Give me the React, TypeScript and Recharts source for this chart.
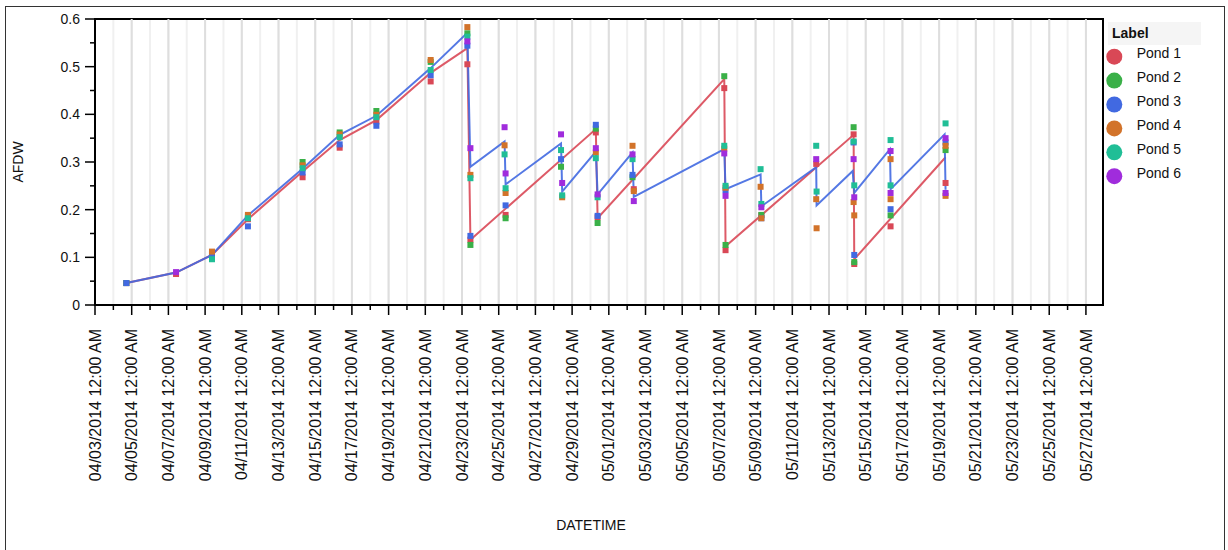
import React from 'react';
import { ScatterChart, Scatter, XAxis, YAxis, CartesianGrid, ReferenceArea, ReferenceLine } from 'recharts';

type Sample = [string, number];

const pondNames = ['Pond 1', 'Pond 2', 'Pond 3', 'Pond 4', 'Pond 5', 'Pond 6'];
const pondColors = ['#d94856', '#3ab048', '#4169e1', '#d2732a', '#20be96', '#a02cdc'];

// AFDW samples per pond (MM/DD HH:MM, 2014)
const pond1: Sample[] = [
  ['04/04 17:00', 0.046], ['04/07 10:00', 0.065], ['04/09 09:00', 0.107], ['04/11 08:00', 0.18],
  ['04/14 07:30', 0.268], ['04/16 08:00', 0.33], ['04/18 08:00', 0.385], ['04/21 07:00', 0.469],
  ['04/23 07:00', 0.505], ['04/23 11:00', 0.137], ['04/25 09:00', 0.189], ['04/30 07:00', 0.362],
  ['04/30 09:20', 0.184], ['05/02 08:40', 0.243], ['05/07 07:00', 0.455], ['05/07 08:40', 0.115],
  ['05/09 07:30', 0.188], ['05/12 07:15', 0.296], ['05/14 08:10', 0.358], ['05/14 09:00', 0.086],
  ['05/16 08:30', 0.165], ['05/19 08:25', 0.256],
];
const pond2: Sample[] = [
  ['04/04 17:00', 0.046], ['04/09 09:00', 0.108], ['04/11 08:00', 0.186], ['04/14 07:30', 0.3],
  ['04/16 08:00', 0.362], ['04/18 08:00', 0.407], ['04/21 07:00', 0.51], ['04/23 07:00', 0.57],
  ['04/23 11:00', 0.126], ['04/25 09:00', 0.182], ['04/28 09:30', 0.29], ['04/30 07:00', 0.37],
  ['04/30 09:20', 0.172], ['05/02 07:00', 0.268], ['05/07 07:00', 0.48], ['05/07 08:40', 0.126],
  ['05/09 07:30', 0.189], ['05/14 08:10', 0.373], ['05/14 09:00', 0.09], ['05/16 08:30', 0.188],
  ['05/19 08:25', 0.325],
];
const pond3: Sample[] = [
  ['04/04 17:00', 0.046], ['04/09 09:00', 0.105], ['04/11 08:00', 0.165], ['04/14 07:30', 0.278],
  ['04/16 08:00', 0.337], ['04/18 08:00', 0.376], ['04/21 07:00', 0.482], ['04/23 07:00', 0.544],
  ['04/23 11:00', 0.145], ['04/25 09:00', 0.209], ['04/28 09:30', 0.306], ['04/30 07:00', 0.378],
  ['04/30 09:20', 0.187], ['05/02 07:00', 0.273], ['05/07 08:40', 0.241], ['05/09 07:30', 0.182],
  ['05/14 08:10', 0.341], ['05/14 09:00', 0.105], ['05/16 08:30', 0.201], ['05/19 08:25', 0.341],
];
const pond4: Sample[] = [
  ['04/09 09:00', 0.112], ['04/11 08:00', 0.189], ['04/14 07:30', 0.293], ['04/16 08:00', 0.358],
  ['04/18 08:00', 0.399], ['04/21 07:00', 0.514], ['04/23 07:00', 0.583], ['04/23 11:00', 0.273],
  ['04/25 07:40', 0.335], ['04/25 09:00', 0.235], ['04/28 11:00', 0.226], ['04/30 07:00', 0.32],
  ['05/02 07:00', 0.334], ['05/02 08:40', 0.239], ['05/07 07:00', 0.328], ['05/07 08:40', 0.246],
  ['05/09 06:30', 0.248], ['05/09 07:30', 0.182], ['05/12 07:15', 0.222], ['05/12 07:45', 0.161],
  ['05/14 08:10', 0.216], ['05/14 09:00', 0.188], ['05/16 08:30', 0.306], ['05/16 08:30', 0.222],
  ['05/19 08:25', 0.334], ['05/19 08:25', 0.229],
];
const pond5: Sample[] = [
  ['04/09 09:00', 0.096], ['04/11 08:00', 0.182], ['04/14 07:30', 0.287], ['04/16 08:00', 0.352],
  ['04/18 08:00', 0.394], ['04/21 07:00', 0.493], ['04/23 07:00', 0.563], ['04/23 11:00', 0.266],
  ['04/25 07:40', 0.316], ['04/25 09:00', 0.245], ['04/28 09:30', 0.325], ['04/28 11:00', 0.23],
  ['04/30 07:00', 0.308], ['04/30 09:20', 0.226], ['05/02 07:00', 0.306], ['05/07 07:00', 0.334],
  ['05/07 08:40', 0.25], ['05/09 06:30', 0.285], ['05/09 07:30', 0.212], ['05/12 07:15', 0.334],
  ['05/12 07:45', 0.238], ['05/14 08:10', 0.343], ['05/14 09:00', 0.251], ['05/16 08:30', 0.346],
  ['05/16 08:30', 0.251], ['05/19 08:25', 0.381],
];
const pond6: Sample[] = [
  ['04/07 10:00', 0.069], ['04/23 07:00', 0.553], ['04/23 11:00', 0.329], ['04/25 07:40', 0.373],
  ['04/25 09:00', 0.276], ['04/28 09:30', 0.358], ['04/28 11:00', 0.256], ['04/30 07:00', 0.329],
  ['04/30 09:20', 0.232], ['05/02 07:00', 0.316], ['05/02 08:40', 0.218], ['05/07 07:00', 0.318],
  ['05/07 08:40', 0.229], ['05/09 07:30', 0.205], ['05/12 07:15', 0.306], ['05/14 08:10', 0.306],
  ['05/14 09:00', 0.226], ['05/16 08:30', 0.323], ['05/16 08:30', 0.235], ['05/19 08:25', 0.35],
  ['05/19 08:25', 0.235],
];

// trend lines
const redLine: Sample[] = [
  ['04/04 17:00', 0.046], ['04/07 10:00', 0.068], ['04/09 09:00', 0.105], ['04/11 08:00', 0.18],
  ['04/14 07:30', 0.28], ['04/16 08:00', 0.346], ['04/18 08:00', 0.388], ['04/21 07:00', 0.487],
  ['04/23 07:00', 0.539], ['04/23 11:00', 0.137], ['04/30 07:00', 0.369], ['04/30 09:20', 0.182],
  ['05/07 07:00', 0.474], ['05/07 08:40', 0.123], ['05/14 08:10', 0.357], ['05/14 09:00', 0.096],
  ['05/19 08:25', 0.31],
];
const blueLine: Sample[] = [
  ['04/04 17:00', 0.046], ['04/07 10:00', 0.068], ['04/09 09:00', 0.105], ['04/11 08:00', 0.188],
  ['04/14 07:30', 0.286], ['04/16 08:00', 0.357], ['04/18 08:00', 0.397], ['04/21 07:00', 0.497],
  ['04/23 07:00', 0.571], ['04/23 11:00', 0.29], ['04/25 07:40', 0.343], ['04/25 09:00', 0.253],
  ['04/28 09:30', 0.339], ['04/28 11:00', 0.238], ['04/30 07:00', 0.322], ['04/30 09:20', 0.232],
  ['05/02 07:00', 0.32], ['05/02 08:40', 0.227], ['05/07 07:00', 0.327], ['05/07 08:40', 0.243],
  ['05/09 06:30', 0.274], ['05/09 07:30', 0.207], ['05/12 07:15', 0.289], ['05/12 07:45', 0.209],
  ['05/14 07:00', 0.281], ['05/14 09:00', 0.235], ['05/16 07:40', 0.327], ['05/16 08:40', 0.243],
  ['05/19 07:10', 0.358], ['05/19 08:25', 0.242],
];

const afdwTicks = [0, 0.05, 0.1, 0.15, 0.2, 0.25, 0.3, 0.35, 0.4, 0.45, 0.5, 0.55, 0.6];

const DAY = 86400000;
const toTime = (s: string) => {
  const [md, hm] = s.split(' ');
  const [m, d] = md.split('/').map(Number);
  const [h, mi] = hm.split(':').map(Number);
  return Date.UTC(2014, m - 1, d, h, mi);
};
const xStart = toTime('04/03 00:00');
const xEnd = toTime('05/27 22:20');
const dayTicks = Array.from({ length: 55 }, (_, i) => xStart + i * DAY);
const evenDayTicks = dayTicks.filter((_, i) => i % 2 === 0);

const toPoints = (rows: Sample[]) => rows.map(([s, v]) => ({ t: toTime(s), v }));
const ponds = [pond1, pond2, pond3, pond4, pond5, pond6];

const FONT = '"Liberation Sans", Arial, sans-serif';
const pad = (n: number) => String(n).padStart(2, '0');
const fmtDate = (v: number) => {
  const d = new Date(v);
  return `${pad(d.getUTCMonth() + 1)}/${pad(d.getUTCDate())}/${d.getUTCFullYear()} 12:00 AM`;
};

function DateTick({ x, y, payload }: any) {
  const major = Math.round((payload.value - xStart) / DAY) % 2 === 0;
  const ty = y + 24;
  return (
    <g>
      <line x1={x} y1={y} x2={x} y2={y + (major ? 10 : 5)} stroke="#000" strokeWidth={1.5} />
      {major && (
        <text x={x} y={ty} dy="0.35em" transform={`rotate(-90, ${x}, ${ty})`} textAnchor="end"
          fontSize={16} fontFamily={FONT} fill="#111">
          {fmtDate(payload.value)}
        </text>
      )}
    </g>
  );
}

function AfdwTick({ x, y, payload }: any) {
  const major = Math.round(payload.value * 100) % 10 === 0;
  return (
    <g>
      <line x1={x - (major ? 10 : 5)} y1={y} x2={x} y2={y} stroke="#000" strokeWidth={1.5} />
      {major && (
        <text x={x - 15} y={y} dy="0.35em" textAnchor="end" fontSize={14} fontFamily={FONT} fill="#111">
          {String(Number(payload.value.toFixed(2)))}
        </text>
      )}
    </g>
  );
}

const squareShape = (color: string) => (props: any) =>
  <rect x={props.cx - 3} y={props.cy - 3} width={6} height={6} fill={color} />;

const noShape = () => <g />;

function Legend() {
  return (
    <svg width={120} height={190} style={{ position: 'absolute', left: 1100, top: 15 }}>
      <rect x={8} y={7} width={93} height={23} fill="#f5f5f5" />
      <text x={12} y={18.5} dy="0.35em" fontSize={14} fontWeight="bold" fontFamily={FONT} fill="#111">Label</text>
      {pondNames.map((name, i) => (
        <g key={name}>
          <circle cx={14.3} cy={41.7 + i * 23.9} r={8} fill={pondColors[i]} />
          <text x={36.7} y={38.3 + i * 23.9} dy="0.35em" fontSize={14} fontFamily={FONT} fill="#111">{name}</text>
        </g>
      ))}
    </svg>
  );
}

export default function App() {
  return (
    <div style={{ position: 'absolute', left: 0, top: 0, width: 1228, height: 550, overflow: 'hidden', background: '#fff' }}>
      <div style={{ position: 'absolute', left: 5, top: 6, width: 1220, height: 600, border: '1px solid #333', boxSizing: 'border-box' }} />
      <div style={{ position: 'absolute', left: 0, top: 0 }}>
        <ScatterChart width={1228} height={550} margin={{ top: 19, right: 125, bottom: 0, left: 0 }}>
          <CartesianGrid horizontal={false} stroke="#f0f0f0" strokeWidth={2} />
          <XAxis
            dataKey="t" type="number" domain={[xStart, xEnd]} ticks={dayTicks} interval={0}
            allowDataOverflow height={245} tickSize={0} tickMargin={0} tick={<DateTick />}
            axisLine={{ stroke: '#000', strokeWidth: 2 }}
            label={(p: any) => (
              <text x={p.viewBox.x + p.viewBox.width / 2 - 8} y={530} textAnchor="middle" fontSize={14}
                fontFamily={FONT} fill="#111">DATETIME</text>
            )}
          />
          <YAxis
            dataKey="v" type="number" domain={[0, 0.6]} ticks={afdwTicks} interval={0}
            allowDataOverflow width={95} tickSize={0} tickMargin={0} tick={<AfdwTick />}
            axisLine={{ stroke: '#000', strokeWidth: 2 }}
            label={(p: any) => (
              <text x={18} y={p.viewBox.y + p.viewBox.height / 2} dy="0.35em" textAnchor="middle"
                transform={`rotate(-90, 18, ${p.viewBox.y + p.viewBox.height / 2})`} fontSize={14}
                fontFamily={FONT} fill="#111">AFDW</text>
            )}
          />
          {evenDayTicks.map((t) => (
            <ReferenceLine key={t} x={t} stroke="#dedede" strokeWidth={2} />
          ))}
          <ReferenceArea x1={xStart} x2={xEnd} y1={0} y2={0.6} fill="none" stroke="#000" strokeWidth={2} />
          <Scatter name="red line" data={toPoints(redLine)} line={{ stroke: pondColors[0], strokeWidth: 2, strokeOpacity: 0.9 }}
            lineJointType="linear" shape={noShape} legendType="none" isAnimationActive={false} />
          <Scatter name="blue line" data={toPoints(blueLine)} line={{ stroke: pondColors[2], strokeWidth: 2, strokeOpacity: 0.9 }}
            lineJointType="linear" shape={noShape} legendType="none" isAnimationActive={false} />
          {ponds.map((rows, i) => (
            <Scatter key={pondNames[i]} name={pondNames[i]} data={toPoints(rows)} fill={pondColors[i]}
              shape={squareShape(pondColors[i])} isAnimationActive={false} />
          ))}
        </ScatterChart>
      </div>
      <Legend />
    </div>
  );
}
